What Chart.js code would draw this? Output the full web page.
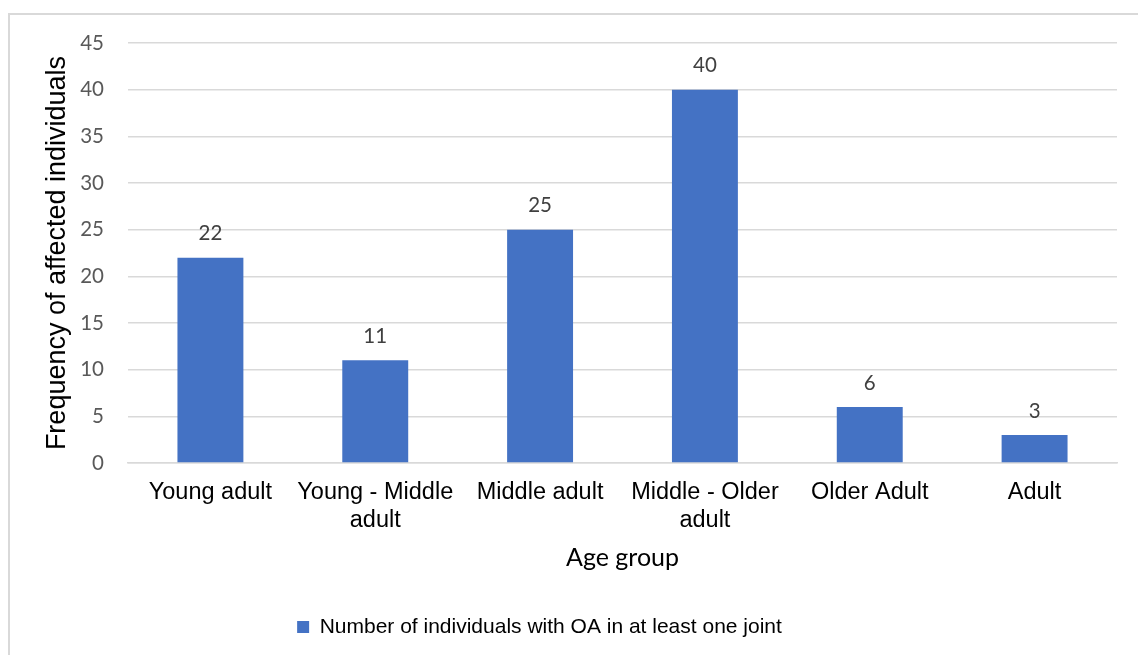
<!DOCTYPE html>
<html>
<head>
<meta charset="utf-8">
<title>OA by age group</title>
<script src="https://cdn.jsdelivr.net/npm/chart.js@4.4.0/dist/chart.umd.min.js"></script>
<style>
  html, body { margin: 0; padding: 0; background: #fff; }
  canvas { display: block; }
</style>
</head>
<body>
<canvas id="ageChart" width="1138" height="655"></canvas>
<script>
// age bands (multi-line labels) and how many individuals had OA in each
const ageGroups = [
  ['Young adult'],
  ['Young - Middle', 'adult'],
  ['Middle adult'],
  ['Middle - Older', 'adult'],
  ['Older Adult'],
  ['Adult']
];
const oaCounts = [22, 11, 25, 40, 6, 3];
const seriesName = 'Number of individuals with OA in at least one joint';
const yMax = 45;
const yStep = 5;

const barBlue = '#4472C4';
const gridGrey = '#d9d9d9';

// thin frame along the top and left edges
const frame = {
  id: 'frame',
  beforeDraw(chart) {
    const ctx = chart.ctx;
    ctx.save();
    ctx.fillStyle = '#fff';
    ctx.fillRect(0, 0, chart.width, chart.height);
    ctx.strokeStyle = gridGrey;
    ctx.lineWidth = 2;
    ctx.beginPath();
    ctx.moveTo(9, chart.height);
    ctx.lineTo(9, 14);
    ctx.lineTo(chart.width, 14);
    ctx.stroke();
    ctx.restore();
  }
};

// value printed above each bar
const valueLabels = {
  id: 'valueLabels',
  afterDatasetsDraw(chart) {
    const ctx = chart.ctx;
    const meta = chart.getDatasetMeta(0);
    const values = chart.data.datasets[0].data;
    ctx.save();
    ctx.font = '20.5px Lato';
    ctx.fillStyle = '#404040';
    ctx.textAlign = 'center';
    ctx.textBaseline = 'middle';
    meta.data.forEach((bar, i) => {
      ctx.fillText(String(values[i]), bar.x, bar.y - 24);
    });
    ctx.restore();
  }
};

// legend sits a bit left of the canvas centre
const legendNudge = {
  id: 'legendNudge',
  afterLayout(chart) {
    chart.legend.left -= 19;
    chart.legend.right -= 19;
  }
};

new Chart(document.getElementById('ageChart').getContext('2d'), {
  type: 'bar',
  data: {
    labels: ageGroups,
    datasets: [{
      label: seriesName,
      data: oaCounts,
      backgroundColor: barBlue,
      borderWidth: 0,
      barPercentage: 0.4,
      categoryPercentage: 1
    }]
  },
  options: {
    responsive: false,
    animation: false,
    layout: { padding: { top: 43, right: 21, bottom: 7.5, left: 0 } },
    plugins: {
      tooltip: { enabled: false },
      legend: {
        position: 'bottom',
        labels: {
          boxWidth: 12,
          boxHeight: 12,
          padding: 10,
          color: '#000',
          font: { family: 'Liberation Sans', size: 21 }
        }
      }
    },
    scales: {
      x: {
        grid: { display: false, drawTicks: false },
        border: { display: true, color: gridGrey, width: 1.5 },
        ticks: {
          color: '#000',
          padding: 16,
          maxRotation: 0,
          autoSkip: false,
          font: { family: 'Liberation Sans', size: 23.5, lineHeight: 1.18 }
        },
        title: {
          display: true,
          text: 'Age group',
          color: '#000',
          padding: { top: 0, bottom: 34 },
          font: { family: 'Lato', size: 25 }
        },
        afterFit(scale) { scale.height = 143.5; }
      },
      y: {
        min: 0,
        max: yMax,
        grid: { color: gridGrey, lineWidth: 1.5, drawTicks: false },
        border: { display: false },
        ticks: {
          stepSize: yStep,
          color: '#595959',
          padding: 24,
          font: { family: 'Lato', size: 20.5 }
        },
        title: {
          display: true,
          text: 'Frequency of affected individuals',
          color: '#000',
          padding: { top: 41, bottom: 0 },
          font: { family: 'Liberation Sans', size: 27 }
        },
        afterFit(scale) { scale.width = 128; }
      }
    }
  },
  plugins: [frame, valueLabels, legendNudge]
});
</script>
</body>
</html>
